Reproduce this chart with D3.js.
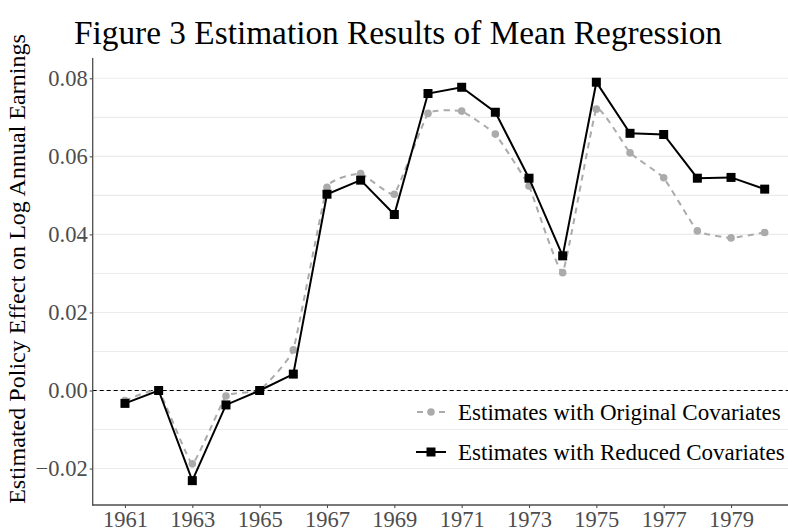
<!DOCTYPE html>
<html><head><meta charset="utf-8">
<script src="https://cdn.jsdelivr.net/npm/d3@7"></script>
<style>body{margin:0;background:#fff}svg{display:block}</style>
</head><body>
<svg id="c" width="788" height="531"></svg>
<script>
const years = [1961,1962,1963,1964,1965,1966,1967,1968,1969,1970,1971,1972,1973,1974,1975,1976,1977,1978,1979,1980];
const original = [-0.0026,0.0000,-0.0188,-0.0014,0.0000,0.0104,0.0521,0.0556,0.0503,0.0710,0.0716,0.0657,0.0524,0.0302,0.0721,0.0609,0.0545,0.0409,0.0391,0.0405];
const reduced  = [-0.0033,0.0000,-0.0231,-0.0037,0.0000,0.0042,0.0503,0.0539,0.0451,0.0761,0.0777,0.0713,0.0544,0.0345,0.0790,0.0659,0.0656,0.0544,0.0546,0.0516];
const xTickYears = [1961,1963,1965,1967,1969,1971,1973,1975,1977,1979];
const yTickValues = [-0.02,0,0.02,0.04,0.06,0.08];
const yTickLabels = ["\u22120.02","0.00","0.02","0.04","0.06","0.08"];
const gridValues = [-0.02,-0.01,0,0.01,0.02,0.03,0.04,0.05,0.06,0.07,0.08];
const seriesNames = ["Estimates with Original Covariates","Estimates with Reduced Covariates"];
const titleText = "Figure 3 Estimation Results of Mean Regression";
const yAxisTitle = "Estimated Policy Effect on Log Annual Earnings";

const svg = d3.select("#c");
const FONT = "'Liberation Serif','Times New Roman',serif";
const panel = {left: 92.7, right: 788, top: 58, bottom: 505};

const x = d3.scaleLinear().domain([1960, 1980]).range([91.3, 764.7]);
const y = d3.scaleLinear().domain([0, 0.08]).range([390.5, 78.3]);

// fit a text element to a target width by adjusting its font size
function fitWidth(sel, target) {
  const node = sel.node();
  const w = node.getComputedTextLength();
  const fs = parseFloat(sel.attr("font-size"));
  if (w > 0) sel.attr("font-size", (fs * target / w).toFixed(2));
}

// gridlines
svg.append("g").selectAll("line").data(gridValues).join("line")
  .attr("x1", panel.left).attr("x2", panel.right)
  .attr("y1", d => y(d)).attr("y2", d => y(d))
  .attr("stroke", "#ebebeb").attr("stroke-width", 1.1);

// zero reference line
svg.append("line")
  .attr("x1", panel.left).attr("x2", panel.right)
  .attr("y1", y(0)).attr("y2", y(0))
  .attr("stroke", "#000").attr("stroke-width", 1.1).attr("stroke-dasharray", "4,3");

// axes
const yAxis = d3.axisLeft(y).tickValues(yTickValues).tickSize(3).tickPadding(2)
  .tickFormat((d, i) => yTickLabels[i]);
const gy = svg.append("g").attr("transform", `translate(${panel.left},0)`).call(yAxis);
gy.select(".domain").remove();
gy.selectAll(".tick line").attr("stroke", "#4d4d4d").attr("stroke-width", 1.1);
gy.selectAll(".tick text").attr("font-family", FONT).attr("font-size", 22.5).attr("fill", "#4d4d4d");

const xAxis = d3.axisBottom(x).tickValues(xTickYears).tickSize(3).tickPadding(3)
  .tickFormat(d3.format("d"));
const gx = svg.append("g").attr("transform", `translate(0,${panel.bottom})`).call(xAxis);
gx.select(".domain").remove();
gx.selectAll(".tick line").attr("stroke", "#4d4d4d").attr("stroke-width", 1.1);
gx.selectAll(".tick text").attr("font-family", FONT).attr("font-size", 22.5).attr("fill", "#4d4d4d");

svg.append("line").attr("x1", panel.left).attr("x2", panel.left)
  .attr("y1", panel.top).attr("y2", panel.bottom + 0.6)
  .attr("stroke", "#4d4d4d").attr("stroke-width", 1.3);
svg.append("line").attr("x1", panel.left - 0.6).attr("x2", panel.right)
  .attr("y1", panel.bottom).attr("y2", panel.bottom)
  .attr("stroke", "#4d4d4d").attr("stroke-width", 1.3);

// series
const grayCol = "#ababab";
const lineO = d3.line().x((d, i) => x(years[i])).y(d => y(d)).curve(d3.curveCardinal.tension(0.7));
const lineR = d3.line().x((d, i) => x(years[i])).y(d => y(d));

svg.append("path").datum(original).attr("d", lineO).attr("fill", "none")
  .attr("stroke", grayCol).attr("stroke-width", 2).attr("stroke-dasharray", "6,5");
svg.append("g").selectAll("circle").data(original).join("circle")
  .attr("cx", (d, i) => x(years[i])).attr("cy", d => y(d)).attr("r", 3.8).attr("fill", grayCol);

svg.append("path").datum(reduced).attr("d", lineR).attr("fill", "none")
  .attr("stroke", "#000").attr("stroke-width", 2);
const sq = 9;
svg.append("g").selectAll("rect").data(reduced).join("rect")
  .attr("x", (d, i) => x(years[i]) - sq / 2).attr("y", d => y(d) - sq / 2)
  .attr("width", sq).attr("height", sq).attr("fill", "#000");

// legend
const leg = svg.append("g");
const rowsY = [412, 452];
leg.append("line").attr("x1", 416).attr("x2", 446).attr("y1", rowsY[0]).attr("y2", rowsY[0])
  .attr("stroke", grayCol).attr("stroke-width", 2).attr("stroke-dasharray", "6,5").attr("stroke-dashoffset", -1);
leg.append("circle").attr("cx", 431).attr("cy", rowsY[0]).attr("r", 3.8).attr("fill", grayCol);
leg.append("line").attr("x1", 416).attr("x2", 446).attr("y1", rowsY[1]).attr("y2", rowsY[1])
  .attr("stroke", "#000").attr("stroke-width", 2);
leg.append("rect").attr("x", 431 - sq / 2).attr("y", rowsY[1] - sq / 2).attr("width", sq).attr("height", sq).attr("fill", "#000");
const legTexts = leg.selectAll("text").data(seriesNames).join("text")
  .attr("x", 458).attr("y", (d, i) => rowsY[i] + 7.5)
  .attr("font-family", FONT).attr("font-size", 22).attr("fill", "#000")
  .text(d => d);
fitWidth(d3.select(legTexts.nodes()[0]), 323);
legTexts.attr("font-size", d3.select(legTexts.nodes()[0]).attr("font-size"));

// y axis title
const yt = svg.append("text")
  .attr("transform", "translate(25,269) rotate(-90)")
  .attr("text-anchor", "middle")
  .attr("font-family", FONT).attr("font-size", 22).attr("fill", "#000")
  .text(yAxisTitle);
fitWidth(yt, 470);

// title
const tt = svg.append("text")
  .attr("x", 398).attr("y", 44)
  .attr("text-anchor", "middle")
  .attr("font-family", FONT).attr("font-size", 30).attr("fill", "#000")
  .text(titleText);
fitWidth(tt, 648);
</script>
</body></html>
